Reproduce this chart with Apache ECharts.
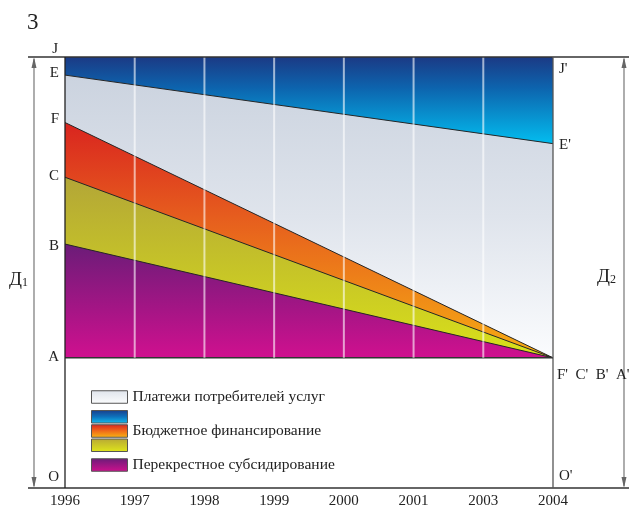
<!DOCTYPE html>
<html>
<head>
<meta charset="utf-8">
<script src="https://cdn.jsdelivr.net/npm/echarts@6/dist/echarts.min.js"></script>
<style>
html, body { margin: 0; padding: 0; background: #fff; }
#c { width: 629px; height: 509px; }
</style>
</head>
<body>
<div id="c"></div>
<script>
// Years on the horizontal axis (2002 is not shown in the series)
const years = ['1996', '1997', '1998', '1999', '2000', '2001', '2003', '2004'];

// Boundary levels in % of the total Д (O = 0, J = 100); straight lines between 1996 and 2004
const levelJ = [100, null, null, null, null, null, null, 100];
const levelE = [95.8, null, null, null, null, null, null, 79.9];
const levelF = [84.8, null, null, null, null, null, null, 30.2];
const levelC = [72.1, null, null, null, null, null, null, 30.2];
const levelB = [56.6, null, null, null, null, null, null, 30.2];
const levelA = [30.2, null, null, null, null, null, null, 30.2];

const nameUsers = 'Платежи потребителей услуг';
const nameBudget = 'Бюджетное финансирование';
const nameBudgetTop = 'Бюджетное финансирование (верхний уровень)';
const nameBudgetLow = 'Бюджетное финансирование (нижний уровень)';
const nameCross = 'Перекрестное субсидирование';

const FONT = "'Liberation Serif', 'DejaVu Serif', serif";
const INK = '#222';

const grad = (y0, y1, stops, global) => ({
  type: 'linear', x: 0, y: y0, x2: 0, y2: y1, global: !!global,
  colorStops: stops.map(([o, c]) => ({ offset: o, color: c }))
});

const chart = echarts.init(document.getElementById('c'), null, { renderer: 'canvas' });

function band(name, data, lineColor, lineWidth) {
  return {
    name, type: 'line', data, connectNulls: true, symbol: 'none', showSymbol: false,
    silent: true, animation: false, z: 2,
    lineStyle: { color: lineColor, width: lineWidth },
    areaStyle: { opacity: 1, color: '#fff' }
  };
}

// One legend block per swatch so the swatches can sit in their own rows
function legendRow(name, top, stops, showText) {
  return {
    orient: 'vertical', left: 86, top, itemWidth: 36, itemHeight: 12.5,
    icon: 'rect', selectedMode: false,
    textStyle: { fontFamily: FONT, fontSize: 15.5, color: INK },
    formatter: () => (showText ? name : ''),
    data: [{ name, itemStyle: { color: grad(0, 1, stops), borderColor: '#555', borderWidth: 1 } }]
  };
}

chart.setOption({
  animation: false,
  grid: { left: 65, right: 76, top: 57, bottom: 21, containLabel: false },
  xAxis: {
    type: 'category', data: years, boundaryGap: false,
    axisLine: { show: false }, axisTick: { show: false },
    axisLabel: { fontFamily: FONT, fontSize: 15, color: INK, margin: 6 },
    splitLine: { show: false }
  },
  yAxis: { type: 'value', min: 0, max: 100, show: false },
  legend: [
    legendRow(nameUsers, 384, [[0, '#dfe4ec'], [1, '#fbfcfd']], true),
    legendRow(nameBudgetTop, 405, [[0, '#1a3d8a'], [0.5, '#0e72bc'], [1, '#12bff0']], false),
    legendRow(nameBudget, 418, [[0, '#d8231f'], [0.5, '#ef6a1a'], [1, '#f9b712']], true),
    legendRow(nameBudgetLow, 433.5, [[0, '#b8a835'], [1, '#dfe61a']], false),
    legendRow(nameCross, 452, [[0, '#6a1c78'], [1, '#d0108e']], true)
  ],
  series: [
    band(nameBudgetTop, levelJ, 'rgba(0,0,0,0)', 0),
    band(nameUsers, levelE, '#262626', 1),
    band(nameBudget, levelF, '#262626', 1),
    band(nameBudgetLow, levelC, '#262626', 1),
    band(nameCross, levelB, '#262626', 1),
    band('A', levelA, '#333', 1.5)
  ]
});

// Pixel helpers from the chart's own scales
const last = years.length - 1;
const px = (i, v) => chart.convertToPixel({ gridIndex: 0 }, [i, v]);
const x0 = px(0, 0)[0], x1 = px(last, 0)[0];
const yOf = (v) => px(0, v)[1];
const yO = yOf(0), yJ = yOf(levelJ[0]);
const yE0 = yOf(levelE[0]), yE1 = yOf(levelE[last]);
const yF0 = yOf(levelF[0]), yC0 = yOf(levelC[0]), yB0 = yOf(levelB[0]), yA = yOf(levelA[0]);

// Fill gradients positioned on the plot in pixel space
chart.setOption({
  series: [
    { areaStyle: { color: grad(yJ, yE1, [[0, '#1b3a85'], [0.35, '#0d63ad'], [1, '#03bdef']], true) } },
    { areaStyle: { color: grad(yE0, yA, [[0, '#cbd3df'], [0.5, '#dfe4ec'], [1, '#fbfcfe']], true) } },
    { areaStyle: { color: grad(yF0, yA, [[0, '#d9241f'], [0.4, '#e65d1e'], [1, '#f7ad12']], true) } },
    { areaStyle: { color: grad(yC0, yA, [[0, '#b3a637'], [1, '#d9e119']], true) } },
    { areaStyle: { color: grad(yB0, yA, [[0, '#6b1c78'], [1, '#d0108f']], true) } },
    { areaStyle: { color: '#ffffff' } }
  ]
});

const W = chart.getWidth();
const lineEl = (xa, ya, xb, yb, color, width, z) => ({
  type: 'line', z: z || 10, silent: true,
  shape: { x1: xa, y1: ya, x2: xb, y2: yb },
  style: { stroke: color, lineWidth: width }
});
const arrowHead = (x, y, dir) => ({
  type: 'polygon', z: 10, silent: true,
  shape: { points: [[x, y], [x - 2.5, y + dir * 11], [x + 2.5, y + dir * 11]] },
  style: { fill: '#666' }
});
const label = (text, x, y, align, size) => ({
  type: 'text', z: 11, silent: true, x, y,
  style: { text, fontFamily: FONT, fontSize: size || 15, fill: INK, align: align || 'right', verticalAlign: 'middle' }
});
const dLabel = (sub, x, y) => ({
  type: 'text', z: 11, silent: true, x, y,
  style: {
    text: '{d|Д}{s|' + sub + '}', verticalAlign: 'middle',
    rich: {
      d: { fontFamily: FONT, fontSize: 19, fill: INK },
      s: { fontFamily: FONT, fontSize: 12, fill: INK, padding: [5, 0, 0, 0] }
    }
  }
});

// Light year rules across the coloured part of the plot
const yearRules = [];
for (let i = 1; i < last; i++) {
  const x = px(i, 0)[0];
  yearRules.push(lineEl(x, yJ, x, yA, 'rgba(255,255,255,0.6)', 2, 5));
}

const ax = x0 - 31, bx = x1 + 71;

chart.setOption({
  graphic: yearRules.concat([
    lineEl(28, yJ, W, yJ, '#333', 1.3),
    lineEl(28, yO, W, yO, '#333', 1.3),
    lineEl(x0, yJ, x0, yO, '#222', 1.3),
    lineEl(x1, yJ, x1, yO, '#555', 1.3),
    lineEl(ax, yJ + 2, ax, yO - 2, '#777', 1.2),
    arrowHead(ax, yJ, 1), arrowHead(ax, yO, -1),
    lineEl(bx, yJ + 2, bx, yO - 2, '#777', 1.2),
    arrowHead(bx, yJ, 1), arrowHead(bx, yO, -1),
    label('3', 27, 23, 'left', 23),
    label('J', x0 - 7, yJ - 8),
    label('E', x0 - 6, yE0 - 2),
    label('F', x0 - 6, yF0 - 3),
    label('C', x0 - 6, yC0 - 1),
    label('B', x0 - 6, yB0 + 2),
    label('A', x0 - 6, yA - 1),
    label('O', x0 - 6, yO - 11),
    label("J'", x1 + 6, yJ + 12, 'left'),
    label("E'", x1 + 6, yE1 + 1, 'left'),
    label("F'  C'  B'  A'", x1 + 4, yA + 17, 'left'),
    label("O'", x1 + 6, yO - 12, 'left'),
    dLabel('1', 9, 280),
    dLabel('2', 597, 277)
  ])
});
</script>
</body>
</html>
